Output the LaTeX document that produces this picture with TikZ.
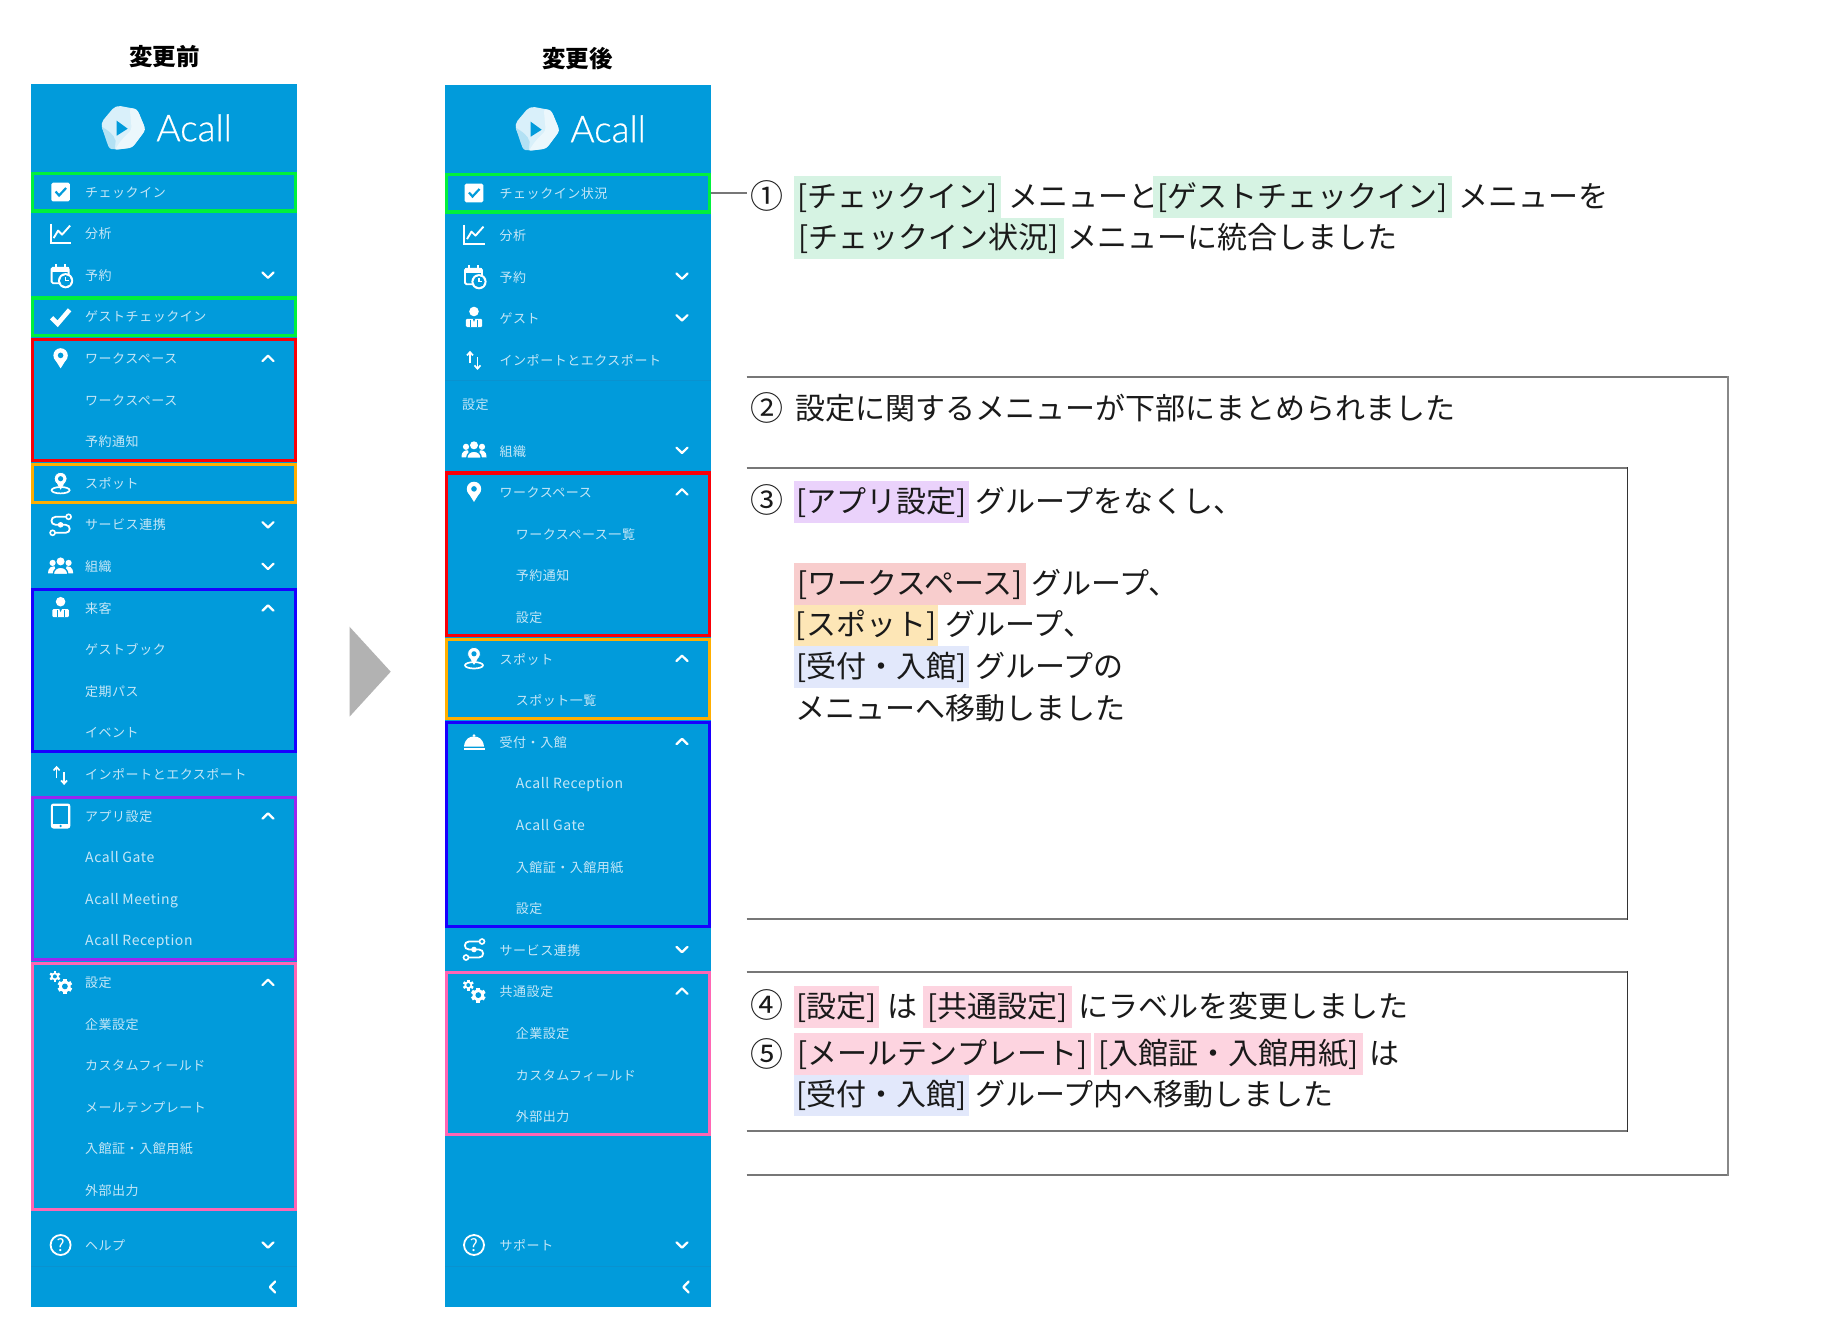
\documentclass[tikz,border=0pt]{standalone}
\usepackage{fontspec}
\setmainfont{Noto Sans CJK JP}
\newfontfamily\menufont[LetterSpace=4]{Noto Sans CJK JP}
\newfontfamily\logofont[FakeBold=0.6]{Lato Light}
\definecolor{panelblue}{HTML}{019BDB}
\definecolor{sepblue}{HTML}{0A92CF}
\definecolor{menutext}{HTML}{C6E7F7}
\definecolor{boxgreen}{HTML}{00F03C}
\definecolor{boxred}{HTML}{F80008}
\definecolor{boxorange}{HTML}{FFAE00}
\definecolor{boxblue}{HTML}{1800FF}
\definecolor{boxpurple}{HTML}{9A26F0}
\definecolor{boxpink}{HTML}{FF66B4}
\definecolor{hlgreen}{HTML}{D6F3E3}
\definecolor{hlpurple}{HTML}{EAD2FB}
\definecolor{hlred}{HTML}{F8CDCD}
\definecolor{hlorange}{HTML}{FDE6B6}
\definecolor{hlblue}{HTML}{E2E8FB}
\definecolor{hlpink}{HTML}{FDD4E0}
\definecolor{bodytext}{HTML}{1A1A1A}
\definecolor{rulegray}{HTML}{777777}
\definecolor{ruleside}{HTML}{333333}
\definecolor{ruleouter}{HTML}{888888}
\newcommand{\bigsize}{\fontsize{30}{36}\selectfont}
\tikzset{
  x=1pt,y=-1pt,
  menulbl/.style={anchor=base west,inner sep=0,text=menutext,font=\menufont\fontsize{13}{16}\selectfont},
  latinlbl/.style={anchor=base west,inner sep=0,text=menutext,font=\menufont\fontsize{14}{16}\selectfont},
  seg/.style={anchor=base west,inner sep=0,text=bodytext,font=\bigsize,xshift=-1.5pt},
  numseg/.style={anchor=base west,inner sep=0,text=bodytext,font=\fontsize{33}{36}\selectfont},
  hlseg/.style={anchor=base west,inner xsep=0,inner ysep=0,text=bodytext,font=\bigsize,text height=31pt,text depth=10.7pt},
  titlelbl/.style={inner sep=0,text=black,font=\bfseries\fontsize{23.5}{26}\selectfont},
  chev/.style={draw=white,line width=2.2pt,line cap=round,line join=round},
  rulebar/.style={draw=rulegray,line width=1.8pt},
  ruleinner/.style={draw=ruleside,line width=1.1pt},
  ruleout/.style={draw=ruleouter,line width=1.1pt},
  ico/.style={draw=white,fill=white},
  helpicon/.style={draw=white,line width=1.8pt,circle,minimum size=20pt,inner sep=0,text=white,font=\fontsize{17}{17}\selectfont},
}
% menu outline box: name, colour, x-left, top, bottom
\newcommand{\mbx}[5]{\node[draw=#2,line width=3.2pt,inner sep=0,minimum width=262.8pt,minimum height={#5-#4-3.2},anchor=north west] (#1) at (#3,#4) {};}
% highlighted text: name, colour, x1, x2, baseline, text
\newcommand{\hl}[6]{\pgfmathsetlengthmacro{\hlw}{#4-#3}\node[hlseg,fill=#2,minimum width=\hlw] (#1) at (#3,#5) {#6};}
\newcommand{\icoAt}[3]{\begin{scope}[shift={(#1,#2)},ico] #3 \end{scope}}
\newcommand{\chevD}[2]{\draw[chev] (#1-5.5,#2-2.7) -- (#1,#2+2.7) -- (#1+5.5,#2-2.7);}
\newcommand{\chevU}[2]{\draw[chev] (#1-5.5,#2+2.7) -- (#1,#2-2.7) -- (#1+5.5,#2+2.7);}
\newcommand{\chevL}[2]{\draw[chev] (#1+2.7,#2-5.5) -- (#1-2.7,#2) -- (#1+2.7,#2+5.5);}
% icons
\newcommand{\icBox}{\fill[rounded corners=1.5pt] (-9.3,-9.3) rectangle (9.3,9.3);
  \draw[draw=panelblue,line width=2.2pt] (-5,-0.5) -- (-1.5,3.5) -- (5.5,-4);}
\newcommand{\icChart}{\draw[line width=1.9pt,fill=none] (-10,-10) -- (-10,9) -- (10.5,9);
  \draw[line width=1.9pt,fill=none,line join=round] (-7,4.5) -- (-2.5,-3) -- (1.5,1) -- (9.5,-8);}
\newcommand{\icCal}{\draw[line width=1.9pt,fill=none,rounded corners=1.5pt] (-9,-7.5) rectangle (8,8);
  \fill (-9,-8) rectangle (8,-3.5);
  \fill (-6,-11) rectangle (-3.8,-7); \fill (3,-11) rectangle (5.2,-7);
  \fill (5,5.5) circle[radius=7.6];
  \fill[panelblue] (5,5.5) circle[radius=5.6];
  \draw[line width=1.2pt,fill=none] (5,2) -- (5,5.5) -- (8,5.5);}
\newcommand{\icTick}{\draw[line width=4.6pt,fill=none] (-9,1) -- (-3,7) -- (9,-7);}
\newcommand{\icPin}{\fill (0,-3) circle[radius=7.2];
  \fill (-6.7,-0.6) -- (0,10) -- (6.7,-0.6) -- cycle;
  \fill[panelblue] (0,-3) circle[radius=2.8];}
\newcommand{\icSpot}{\draw[line width=1.7pt,fill=none] (0,7) ellipse[x radius=9,y radius=3.2];
  \fill (-5.2,-2) -- (0,6.5) -- (5.2,-2) -- cycle;
  \draw[draw=panelblue,fill=white,line width=0.8pt] (0,-4.5) circle[radius=6.4];
  \fill (-4.6,-1.5) -- (0,6) -- (4.6,-1.5) -- cycle;
  \fill[panelblue] (0,-4.5) circle[radius=2.6];}
\newcommand{\icServ}{\draw[line width=1.8pt,fill=none] (6,-8) -- (-5,-8) .. controls (-10.5,-8) and (-10.5,0) .. (-5,0) -- (5,0) .. controls (10.5,0) and (10.5,8) .. (5,8) -- (-6,8);
  \draw[line width=1.6pt,fill=panelblue] (8,-8) circle[radius=2.5];
  \draw[line width=1.6pt,fill=panelblue] (-8,8) circle[radius=2.5];
  \fill (0,0) circle[radius=2.8];}
\newcommand{\icGroup}{\fill (-8,-3.5) circle[radius=3.1]; \fill (8,-3.5) circle[radius=3.1]; \fill (0,-5) circle[radius=4];
  \fill (-12.5,7) .. controls (-12.5,0) and (-8,0) .. (-6,0) -- (-4,7) -- cycle;
  \fill (12.5,7) .. controls (12.5,0) and (8,0) .. (6,0) -- (4,7) -- cycle;
  \draw[draw=panelblue,fill=white,line width=1.3pt] (-7.3,8) .. controls (-7.3,-1.5) and (7.3,-1.5) .. (7.3,8) -- cycle;}
\newcommand{\icGuest}{\fill (0,-6.3) circle[radius=4.8];
  \fill[rounded corners=1.2pt] (-8.2,1) rectangle (8.2,9.2);
  \draw[draw=panelblue,line width=1pt] (-3.5,2) -- (-3.5,9.2);
  \draw[draw=panelblue,line width=1pt] (3.5,2) -- (3.5,9.2);
  \fill[panelblue] (-1.3,1) -- (1.3,1) -- (0,4) -- cycle;}
\newcommand{\icSwap}{\draw[line width=1.7pt,fill=none] (-4,4) -- (-4,-7);
  \draw[line width=1.7pt,fill=none] (-7,-4) -- (-4,-7.3) -- (-1,-4);
  \draw[line width=1.7pt,fill=none] (3.5,-2.5) -- (3.5,9);
  \draw[line width=1.7pt,fill=none] (0.5,6) -- (3.5,9.3) -- (6.5,6);}
\newcommand{\icTablet}{\fill[rounded corners=2.5pt] (-9.7,-12.5) rectangle (9.7,12.5);
  \fill[panelblue] (-7.2,-10) rectangle (7.2,7.5);
  \fill[panelblue] (0,10) circle[radius=1.3];}
\newcommand{\gear}[4]{\fill (#1,#2) circle[radius=#3];
  \foreach \a in {0,60,...,300}{\fill[rotate around={\a:(#1,#2)}] (#1-0.32*#3,#2-#3-1.6) rectangle (#1+0.32*#3,#2-#3+1);}
  \fill[panelblue] (#1,#2) circle[radius=#4];}
\newcommand{\icGears}{\gear{-5.7}{-6}{3.9}{2}\gear{4.3}{4}{5.8}{2.9}}
\newcommand{\icBell}{\fill (0,-6) circle[radius=1.5];
  \fill (-10,5) .. controls (-9,-3.5) and (-4,-5) .. (0,-5) .. controls (4,-5) and (9,-3.5) .. (10,5) -- cycle;
  \fill (-10.5,6.4) rectangle (10.5,8.4);}
\newcommand{\logo}[3]{%
  \begin{scope}[shift={(#1,#2)}]
    \fill[fill=white!85!panelblue,rounded corners=5pt] (-22.5,-4) -- (-7,-22.5) -- (14.5,-18.5) -- (23,2) -- (9.5,20) -- (-11,22.5) -- cycle;
    \fill[white!92!panelblue,rounded corners=3pt] (7,-20) -- (14.5,-18.5) -- (23,2) -- (9.5,20) -- (-8,22) -- (-1,12) -- (9,2) -- cycle;
    \fill[white!70!panelblue] (-21,-1) .. controls (-16,2) and (-9,6) .. (-7,13) -- (-8,21.5) -- (-11,21.5) .. controls (-14,21) and (-15,17) .. (-16,14) -- cycle;
    \fill[panelblue] (-6,-7) -- (5,1) -- (-6,8) -- cycle;
  \end{scope}
  \node[anchor=base west,inner sep=0,text=white,font=\logofont\fontsize{37}{40}\selectfont] (#3) at (#1+33.5,#2+13.5) {Acall};}
\begin{document}
\begin{tikzpicture}
\useasboundingbox (0,0) rectangle (1829,1341);
\fill[white] (0,0) rectangle (1829,1341);

% titles
\node[titlelbl] (titleBefore) at (164.5,57) {変更前};
\node[titlelbl] (titleAfter) at (577.5,58.5) {変更後};

% panels
\fill[panelblue] (31,84) rectangle (297,1307);
\fill[panelblue] (445,85) rectangle (711,1307);
\draw[sepblue,line width=1pt] (31,1266) -- (297,1266);
\draw[sepblue,line width=1pt] (445,1266) -- (711,1266);
\draw[sepblue,line width=1pt] (445,380) -- (711,380);

\logo{122.7}{127.7}{logoLeft}
\logo{536.7}{128.7}{logoRight}

% arrow between panels
\fill[black!30] (349.5,626.7) -- (390.7,671.7) -- (349.5,716.7) -- cycle;

% left outlines
\mbx{lGreenA}{boxgreen}{31}{171.5}{212.5}
\mbx{lGreenB}{boxgreen}{31}{296.3}{337.3}
\mbx{lRed}{boxred}{31}{337.9}{462.1}
\mbx{lOrange}{boxorange}{31}{462.7}{503.7}
\mbx{lBlue}{boxblue}{31}{587.5}{753.3}
\mbx{lPurple}{boxpurple}{31}{795.5}{961.3}
\mbx{lPink}{boxpink}{31}{961.9}{1210.9}
% right outlines
\mbx{rGreen}{boxgreen}{445}{172.5}{213.5}
\mbx{rRed}{boxred}{445}{471.4}{637.2}
\mbx{rOrange}{boxorange}{445}{637.8}{720.4}
\mbx{rBlue}{boxblue}{445}{721}{928.4}
\mbx{rPink}{boxpink}{445}{970.6}{1136.4}

% left labels
\foreach \nm/\yy/\txt in {
 la0/192/チェックイン, la1/233.6/分析, la2/275.2/予約, la3/316.8/ゲストチェックイン,
 la4/358.4/ワークスペース, la5/400/ワークスペース, la6/441.6/予約通知, la7/483.2/スポット,
 la8/524.8/サービス連携, la9/566.4/組織, la10/608/来客, la11/649.6/ゲストブック,
 la12/691.2/定期パス, la13/732.8/イベント, la14/774.4/インポートとエクスポート,
 la15/816/アプリ設定,
 la19/982.4/設定, la20/1024/企業設定, la21/1065.6/カスタムフィールド, la22/1107.2/メールテンプレート,
 la23/1148.8/入館証・入館用紙, la24/1190.4/外部出力, la25/1245/ヘルプ}
 {\node[menulbl] (\nm) at (85,\yy+5) {\txt};}
\foreach \nm/\yy/\txt in {la16/857.6/Acall Gate, la17/899.2/Acall Meeting, la18/940.8/Acall Reception}
 {\node[latinlbl] (\nm) at (85,\yy+5) {\txt};}

% right labels (top level)
\foreach \nm/\yy/\txt in {
 ra0/193/チェックイン状況, ra1/234.6/分析, ra2/276.2/予約, ra3/317.8/ゲスト, ra4/359.4/インポートとエクスポート,
 ra6/450.3/組織, ra7/491.9/ワークスペース, ra11/658.3/スポット, ra13/741.5/受付・入館,
 ra18/949.5/サービス連携, ra19/991.1/共通設定, ra23/1245/サポート}
 {\node[menulbl] (\nm) at (499.5,\yy+5.8) {\txt};}
\node[menulbl] (ra5) at (462,404.8+5) {設定};
% right labels (second level)
\foreach \nm/\yy/\txt in {
 rb8/533.5/ワークスペース一覧, rb9/575.1/予約通知, rb10/616.7/設定, rb12/699.9/スポット一覧,
 rb16/866.3/入館証・入館用紙, rb17/907.9/設定,
 rb20/1032.7/企業設定, rb21/1074.3/カスタムフィールド, rb22/1115.9/外部出力}
 {\node[menulbl] (\nm) at (515.6,\yy+5.8) {\txt};}
\foreach \nm/\yy/\txt in {rb14/783.1/Acall Reception, rb15/824.7/Acall Gate}
 {\node[latinlbl] (\nm) at (515.6,\yy+5.8) {\txt};}

% left icons
\icoAt{60.6}{192}{\icBox}
\icoAt{60.6}{233.6}{\icChart}
\icoAt{60.6}{275.2}{\icCal}
\icoAt{60.6}{316.8}{\icTick}
\icoAt{60.6}{358.4}{\icPin}
\icoAt{60.6}{483.2}{\icSpot}
\icoAt{60.6}{524.8}{\icServ}
\icoAt{60.6}{566.4}{\icGroup}
\icoAt{60.6}{608}{\icGuest}
\icoAt{60.6}{774.4}{\icSwap}
\icoAt{60.6}{816}{\icTablet}
\icoAt{60.6}{982.4}{\icGears}
% right icons
\icoAt{474}{193}{\icBox}
\icoAt{474}{234.6}{\icChart}
\icoAt{474}{276.2}{\icCal}
\icoAt{474}{317.8}{\icGuest}
\icoAt{474}{359.4}{\icSwap}
\icoAt{474}{450.3}{\icGroup}
\icoAt{474}{491.9}{\icPin}
\icoAt{474}{658.3}{\icSpot}
\icoAt{474}{741.5}{\icBell}
\icoAt{474}{949.5}{\icServ}
\icoAt{474}{991.1}{\icGears}

% help icons
\node[helpicon] (helpL) at (60.6,1245) {?};
\node[helpicon] (helpR) at (474,1245) {?};

% chevrons
\foreach \yy in {275.2,524.8,566.4,1245}{\chevD{268}{\yy}}
\foreach \yy in {358.4,608,816,982.4}{\chevU{268}{\yy}}
\chevL{272.5}{1287}
\foreach \yy in {276.2,317.8,450.3,949.5,1245}{\chevD{682}{\yy}}
\foreach \yy in {491.9,658.3,741.5,991.1}{\chevU{682}{\yy}}
\chevL{686}{1287}

% explanation frames
\draw[rulebar] (746.7,377.3) -- (1728,377.3);
\draw[rulebar] (746.7,1174.7) -- (1728,1174.7);
\draw[ruleout] (1728,376.4) -- (1728,1175.6);
\draw[rulebar] (746.7,467.8) -- (1627.3,467.8);
\draw[rulebar] (746.7,919) -- (1627.3,919);
\draw[ruleinner] (1627.3,467) -- (1627.3,919.8);
\draw[rulebar] (746.7,971.7) -- (1627.3,971.7);
\draw[rulebar] (746.7,1130.7) -- (1627.3,1130.7);
\draw[ruleinner] (1627.3,970.9) -- (1627.3,1131.5);

% explanation 1
\node[numseg] (n1) at (750,208) {①};
\draw[rulegray,line width=1.5pt,shorten >=3.5pt] (rGreen.east) -- (n1.west |- rGreen.east);
\hl{h1a}{hlgreen}{793.6}{1001}{207}{[チェックイン]}
\node[seg] (t1a) at (1009.6,207) {メニューと};
\hl{h1b}{hlgreen}{1153}{1452}{207}{[ゲストチェックイン]}
\node[seg] (t1b) at (1459.6,207) {メニューを};
\hl{h1c}{hlgreen}{793.6}{1063.6}{248.6}{[チェックイン状況]}
\node[seg] (t1c) at (1069,248.6) {メニューに統合しました};

% explanation 2
\node[numseg] (n2) at (750,420) {②};
\node[seg] (t2) at (797,419) {設定に関するメニューが下部にまとめられました};

% explanation 3
\node[numseg] (n3) at (750,512.5) {③};
\hl{h3a}{hlpurple}{793.6}{969}{512.3}{[アプリ設定]}
\node[seg] (t3a) at (977,512.3) {グループをなくし、};
\hl{h3b}{hlred}{793.6}{1026}{594}{[ワークスペース]}
\node[seg] (t3b) at (1032.6,594) {グループ、};
\hl{h3c}{hlorange}{793.6}{938}{635.8}{[スポット]}
\node[seg] (t3c) at (947,635.8) {グループ、};
\hl{h3d}{hlblue}{793.6}{969}{677}{[受付・入館]}
\node[seg] (t3d) at (977,677) {グループの};
\node[seg] (t3e) at (797,719.5) {メニューへ移動しました};

% explanation 4
\node[numseg] (n4) at (750,1017.5) {④};
\hl{h4a}{hlpink}{793.6}{878.5}{1017}{[設定]}
\node[seg] (t4a) at (888.6,1017) {は};
\hl{h4b}{hlpink}{923}{1072}{1017}{[共通設定]}
\node[seg] (t4b) at (1080,1017) {にラベルを変更しました};

% explanation 5
\node[numseg] (n5) at (750,1066) {⑤};
\hl{h5a}{hlpink}{793.6}{1091}{1064}{[メールテンプレート]}
\hl{h5b}{hlpink}{1093.8}{1363}{1064}{[入館証・入館用紙]}
\node[seg] (t5a) at (1371,1064) {は};
\hl{h5c}{hlblue}{793.6}{969}{1105.7}{[受付・入館]}
\node[seg] (t5b) at (977,1105.7) {グループ内へ移動しました};
\end{tikzpicture}
\end{document}
